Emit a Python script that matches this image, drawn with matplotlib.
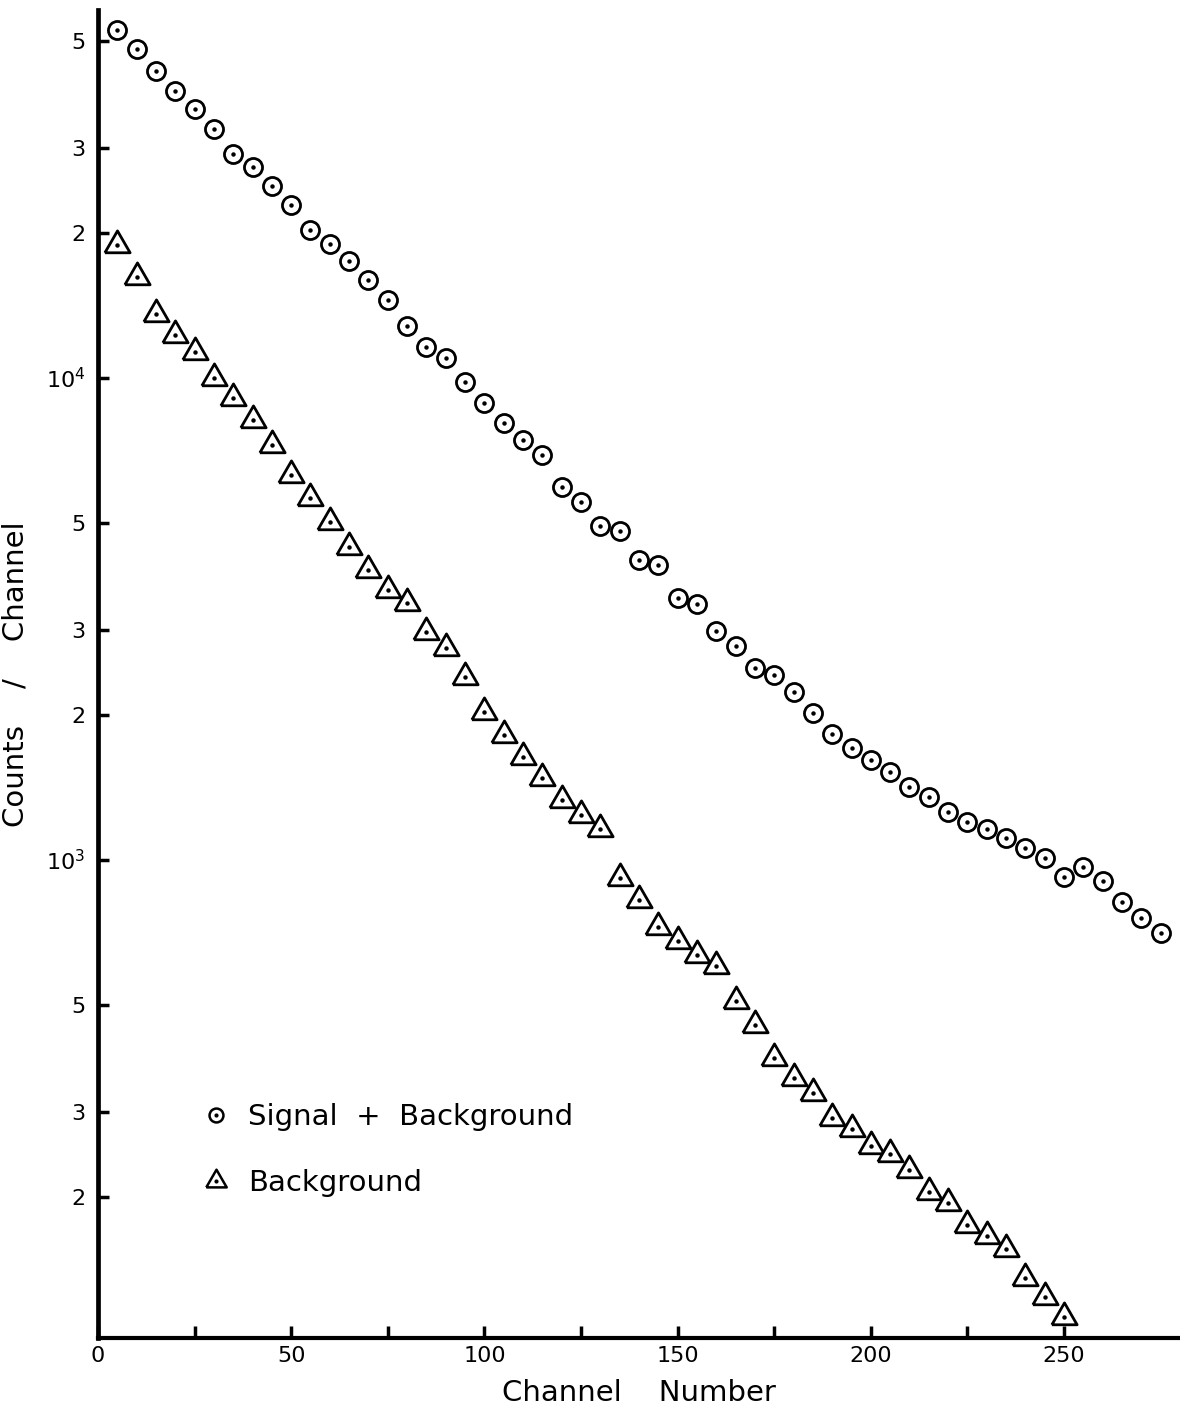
import numpy as np
import matplotlib
matplotlib.use("Agg")
import matplotlib.pyplot as plt
from matplotlib.markers import MarkerStyle
from matplotlib.lines import Line2D
from matplotlib.legend_handler import HandlerTuple
from matplotlib.ticker import FixedLocator, NullFormatter

# Channel numbers and counts per channel
channel_sb = [5, 10, 15, 20, 25, 30, 35, 40, 45, 50, 55, 60, 65, 70, 75, 80,
              85, 90, 95, 100, 105, 110, 115, 120, 125, 130, 135, 140, 145,
              150, 155, 160, 165, 170, 175, 180, 185, 190, 195, 200, 205, 210,
              215, 220, 225, 230, 235, 240, 245, 250, 255, 260, 265, 270, 275]
counts_sb = [52700, 48200, 43300, 39400, 36100, 32800, 29200, 27400, 25000,
             22800, 20300, 19000, 17500, 16000, 14500, 12800, 11600, 11000,
             9810, 8880, 8070, 7430, 6920, 5940, 5530, 4930, 4820, 4190, 4090,
             3500, 3400, 2990, 2780, 2500, 2420, 2230, 2020, 1830, 1710, 1610,
             1520, 1420, 1350, 1260, 1200, 1160, 1110, 1060, 1010, 922, 968,
             905, 818, 759, 706]

channel_bg = [5, 10, 15, 20, 25, 30, 35, 40, 45, 50, 55, 60, 65, 70, 75, 80,
              85, 90, 95, 100, 105, 110, 115, 120, 125, 130, 135, 140, 145,
              150, 155, 160, 165, 170, 175, 180, 185, 190, 195, 200, 205, 210,
              215, 220, 225, 230, 235, 240, 245, 250]
counts_bg = [18900, 16200, 13600, 12300, 11300, 10000, 9090, 8190, 7260, 6290,
             5640, 5030, 4460, 4000, 3630, 3410, 2970, 2750, 2400, 2030, 1820,
             1640, 1480, 1330, 1240, 1160, 918, 826, 726, 679, 635, 603, 510,
             455, 388, 353, 329, 292, 277, 255, 246, 228, 205, 194, 175, 166,
             156, 136, 124, 113]

x_major = [0, 50, 100, 150, 200, 250]
x_minor = [25, 75, 125, 175, 225]
y_major = [1e3, 1e4]
y_major_labels = [r"$10^3$", r"$10^4$"]
y_minor = [200, 300, 500, 2000, 3000, 5000, 20000, 30000, 50000]
y_minor_labels = ["2", "3", "5", "2", "3", "5", "2", "3", "5"]

plt.rcParams["font.family"] = ["DejaVu Sans"]
plt.rcParams["mathtext.fontset"] = "dejavusans"

fig = plt.figure(figsize=(11.8, 14.1), dpi=100)
ax = fig.add_axes([0.083, 0.051, 0.917, 0.942])

# triangle with its centroid at the origin, rounded corners
tri_verts = [(-1.0, -0.577), (1.0, -0.577), (0.0, 1.155), (-1.0, -0.577)]
tri_marker = MarkerStyle(tri_verts, joinstyle="round")

ink = "black"
ax.plot(channel_sb, counts_sb, ls="none", marker="o", ms=13,
        mfc="white", mec=ink, mew=2.0, clip_on=False, zorder=3)
ax.plot(channel_sb, counts_sb, ls="none", marker="o", ms=3.2,
        mfc=ink, mec=ink, mew=0, clip_on=False, zorder=4)
ax.plot(channel_bg, counts_bg, ls="none", marker=tri_marker, ms=21,
        mfc="white", mec=ink, mew=2.0, clip_on=False, zorder=3)
ax.plot(channel_bg, counts_bg, ls="none", marker="o", ms=3.2,
        mfc=ink, mec=ink, mew=0, clip_on=False, zorder=4)

ax.set_yscale("log")
ax.set_xlim(0, 280)
ax.set_ylim(102, 58000)

for side in ("top", "right"):
    ax.spines[side].set_visible(False)
ax.spines["left"].set_linewidth(3.4)
ax.spines["bottom"].set_linewidth(3.0)

ax.xaxis.set_major_locator(FixedLocator(x_major))
ax.xaxis.set_minor_locator(FixedLocator(x_minor))
ax.xaxis.set_minor_formatter(NullFormatter())
ax.set_xticklabels([str(v) for v in x_major])

ax.yaxis.set_major_locator(FixedLocator(y_major))
ax.yaxis.set_minor_locator(FixedLocator(y_minor))
ax.set_yticklabels(y_major_labels)
ax.set_yticklabels(y_minor_labels, minor=True)

ax.tick_params(axis="both", which="both", direction="in", width=2.5,
               colors=ink, labelsize=16)
ax.tick_params(axis="x", which="both", length=9, pad=6)
ax.tick_params(axis="y", which="both", length=8, pad=9)

ax.set_xlabel("Channel    Number", fontsize=21, labelpad=9)
ax.set_ylabel("Counts    /    Channel", fontsize=21, labelpad=12)

# legend keys mirror the plotted markers
h_ring = Line2D([], [], ls="none", marker="o", ms=10, mfc="white", mec=ink, mew=1.8)
h_ring_dot = Line2D([], [], ls="none", marker="o", ms=3, mfc=ink, mec=ink, mew=0)
h_tri = Line2D([], [], ls="none", marker=tri_marker, ms=17, mfc="white", mec=ink, mew=1.8)
h_tri_dot = Line2D([], [], ls="none", marker="o", ms=3, mfc=ink, mec=ink, mew=0)
ax.legend([(h_ring, h_ring_dot), (h_tri, h_tri_dot)],
          ["Signal  +  Background", "Background"],
          handler_map={tuple: HandlerTuple(ndivide=1, pad=0)},
          loc="upper left", bbox_to_anchor=(0.096, 0.177), frameon=False,
          fontsize=21, handlelength=1.0, handletextpad=0.6,
          labelspacing=1.3, borderpad=0, borderaxespad=0)

fig.savefig("out.png", dpi=100, facecolor="white")
